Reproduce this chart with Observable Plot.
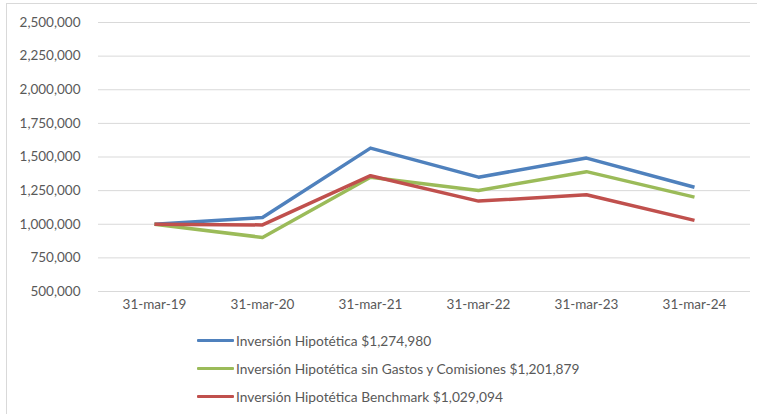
<!DOCTYPE html>
<html>
<head>
<meta charset="utf-8">
<script src="https://cdn.jsdelivr.net/npm/d3@7"></script>
<script src="https://cdn.jsdelivr.net/npm/@observablehq/plot@0.6"></script>
<style>
  html, body { margin: 0; padding: 0; background: #fff; }
  #wrap { position: relative; width: 757px; height: 414px; overflow: hidden; font-family: "Lato", "Liberation Sans", sans-serif; }
  #frame { position: absolute; left: 6px; top: 3px; width: 760px; height: 420px; border: 1px solid #d9d9d9; box-sizing: border-box; }
  #chart { position: absolute; left: 0; top: 0; }
  .leg { position: absolute; left: 197px; height: 20px; display: flex; align-items: center; font-size: 13.75px; color: #595959; white-space: nowrap; }
  .sw { width: 37px; height: 3px; margin-right: 2px; border-radius: 1px; }
</style>
</head>
<body>
<div id="wrap">
  <div id="frame"></div>
  <div id="chart"></div>
  <div id="legend"></div>
</div>
<script>
const dates = ["31-mar-19", "31-mar-20", "31-mar-21", "31-mar-22", "31-mar-23", "31-mar-24"];
const seriesNames = [
  "Inversión Hipotética $1,274,980",
  "Inversión Hipotética sin Gastos y Comisiones $1,201,879",
  "Inversión Hipotética Benchmark $1,029,094"
];
const seriesColors = ["#4F81BD", "#9BBB59", "#C0504D"];
const inversion = [1000000, 1050000, 1566000, 1350000, 1492000, 1274980];
const sinGastos = [1000000, 902000, 1350000, 1251000, 1391000, 1201879];
const benchmark = [1000000, 995000, 1361000, 1172000, 1219000, 1029094];
const yTicks = [500000, 750000, 1000000, 1250000, 1500000, 1750000, 2000000, 2250000, 2500000];

const allSeries = [inversion, sinGastos, benchmark];
const rows = [];
allSeries.forEach((vals, i) => vals.forEach((v, j) => rows.push({series: seriesNames[i], date: dates[j], value: v})));

const chart = Plot.plot({
  width: 757,
  height: 320,
  marginLeft: 98,
  marginRight: 7,
  marginTop: 22,
  marginBottom: 29,
  style: { fontFamily: "Lato, 'Liberation Sans', sans-serif", fontSize: "13.5px", color: "#595959", background: "transparent" },
  x: { type: "point", domain: dates, padding: 0.5, label: null },
  y: { domain: [500000, 2500000], label: null },
  color: { domain: seriesNames, range: seriesColors },
  marks: [
    Plot.gridY(yTicks, { stroke: "#d9d9d9", strokeOpacity: 1, strokeWidth: 1 }),
    Plot.axisY(yTicks, { tickSize: 0, tickPadding: 18, tickFormat: d3.format(","), fill: "#595959" }),
    Plot.axisX(dates, { tickSize: 0, tickPadding: 8, fill: "#595959" }),
    Plot.line(rows, { x: "date", y: "value", z: "series", stroke: "series", strokeWidth: 3.5, strokeLinejoin: "round", strokeLinecap: "butt" })
  ]
});
document.getElementById("chart").appendChild(chart);

const legend = document.getElementById("legend");
const legTops = [330, 358, 386];
seriesNames.forEach((name, i) => {
  const d = document.createElement("div");
  d.className = "leg";
  d.style.top = legTops[i] + "px";
  const sw = document.createElement("div");
  sw.className = "sw";
  sw.style.background = seriesColors[i];
  d.appendChild(sw);
  const t = document.createElement("span");
  t.textContent = name;
  d.appendChild(t);
  legend.appendChild(d);
});
</script>
</body>
</html>
